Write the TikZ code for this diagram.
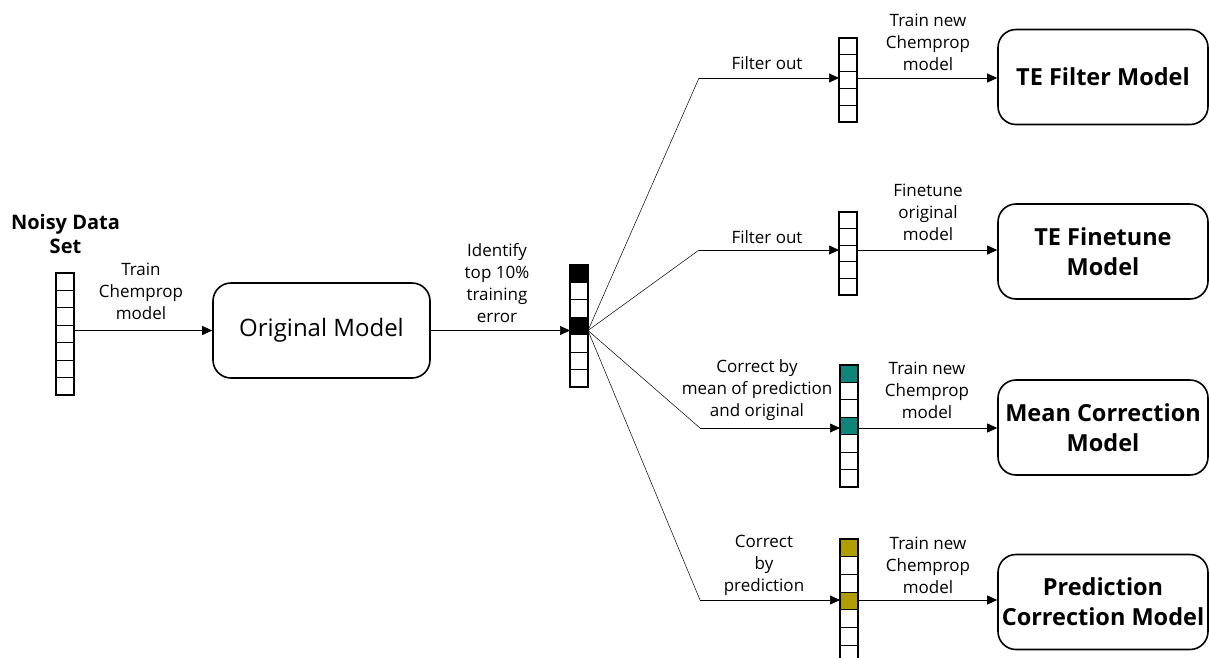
\documentclass[tikz,border=0pt]{standalone}
\usepackage{fontspec}
\setmainfont{Open Sans}
\usetikzlibrary{arrows.meta,calc}
\definecolor{teal1}{HTML}{0F857A}
\definecolor{olive1}{HTML}{B29D00}
\newcommand{\vecframe}[3]{% name, n, h
  \foreach \i in {1,...,#2} {\ifnum\i<#2
    \draw[line width=0.8pt] ($(#1.north west)+(0,\i*#3)$) -- ($(#1.north east)+(0,\i*#3)$);\fi}
  \draw[line width=1.6pt] (#1.north west) rectangle (#1.south east);
}
\newcommand{\fillcell}[4]{% name, k, h, color
  \fill[#4] ($(#1.north west)+(0,#2*#3-#3)$) rectangle ($(#1.north east)+(0,#2*#3)$);
}
\begin{document}
\begin{tikzpicture}[x=1pt,y=-1pt,
  lbl/.style={align=center, font=\fontsize{17}{22}\selectfont, inner sep=0pt},
  model/.style={draw, line width=1.6pt, rounded corners=18pt, align=center, inner sep=0pt,
    minimum width=210pt, minimum height=95pt, font=\fontsize{23.5}{30}\selectfont\bfseries},
  arr/.style={-{Triangle[length=10pt,width=9pt]}, line width=0.7pt},
  fan/.style={line width=0.5pt},
  vec/.style={inner sep=0pt, outer sep=0pt, minimum width=18pt, anchor=north}
]
\useasboundingbox (0,0) rectangle (1209,657);

% vectors
\node[vec, minimum height=122pt] (v0) at (65,273) {};
\vecframe{v0}{7}{17.43}
\node[vec, minimum height=122pt] (v1) at (579,265) {};
\fillcell{v1}{1}{17.43}{black}
\fillcell{v1}{4}{17.43}{black}
\vecframe{v1}{7}{17.43}
\node[vec, minimum height=84pt] (v2) at (848,38) {};
\vecframe{v2}{5}{16.8}
\node[vec, minimum height=83pt] (v3) at (848,212) {};
\vecframe{v3}{5}{16.6}
\node[vec, minimum height=122pt] (v4) at (849,365) {};
\fillcell{v4}{1}{17.43}{teal1}
\fillcell{v4}{4}{17.43}{teal1}
\vecframe{v4}{7}{17.43}
\node[vec, minimum height=124pt] (v5) at (849,539) {};
\fillcell{v5}{1}{17.7}{olive1}
\fillcell{v5}{4}{17.7}{olive1}
\vecframe{v5}{7}{17.7}

% boxes
\node[model, minimum width=217pt, font=\fontsize{24}{30}\selectfont] (orig) at (321.5,330.5) {Original Model};
\node[model] (f1) at (1103,77) {TE Filter Model};
\node[model] (f2) at (1103,251.5) {TE Finetune\\Model};
\node[model] (f3) at (1103,427.5) {Mean Correction\\Model};
\node[model] (f4) at (1103,602) {Prediction\\Correction Model};

% labels
\node[lbl, font=\fontsize{20}{24}\selectfont\bfseries] (noisy) at (65.5,234) {Noisy Data\\Set};
\node[lbl] (l0) at (141,291) {Train\\Chemprop\\model};
\node[lbl] (l1) at (497,283) {Identify\\top 10\%\\training\\error};
\node[lbl] (l2) at (767,63) {Filter out};
\node[lbl] (l3) at (928,42) {Train new\\Chemprop\\model};
\node[lbl] (l4) at (767,237) {Filter out};
\node[lbl] (l5) at (928,212) {Finetune\\original\\model};
\node[lbl] (l6) at (757,390) {Correct by\\mean of prediction\\and original};
\node[lbl] (l7) at (927,390) {Train new\\Chemprop\\model};
\node[lbl] (l8) at (764,565) {Correct\\by\\prediction};
\node[lbl] (l9) at (928,565) {Train new\\Chemprop\\model};

% connectors
\draw[arr] (v0.east |- orig.west) -- (orig.west);
\draw[arr] (orig.east) -- (orig.east -| v1.west);
\coordinate (hub) at (v1.east |- orig.east);
\coordinate (c1) at (699,78);
\coordinate (c2) at (699,250);
\coordinate (c3) at (700,428);
\coordinate (c4) at (700,600);
\draw[fan] (hub) -- (c1); \draw[arr] (c1) -- (c1 -| v2.west);
\draw[fan] (hub) -- (c2); \draw[arr] (c2) -- (c2 -| v3.west);
\draw[fan] (hub) -- (c3); \draw[arr] (c3) -- (c3 -| v4.west);
\draw[fan] (hub) -- (c4); \draw[arr] (c4) -- (c4 -| v5.west);
\draw[arr] (c1 -| v2.east) -- (c1 -| f1.west);
\draw[arr] (c2 -| v3.east) -- (c2 -| f2.west);
\draw[arr] (c3 -| v4.east) -- (c3 -| f3.west);
\draw[arr] (c4 -| v5.east) -- (c4 -| f4.west);
\end{tikzpicture}
\end{document}
